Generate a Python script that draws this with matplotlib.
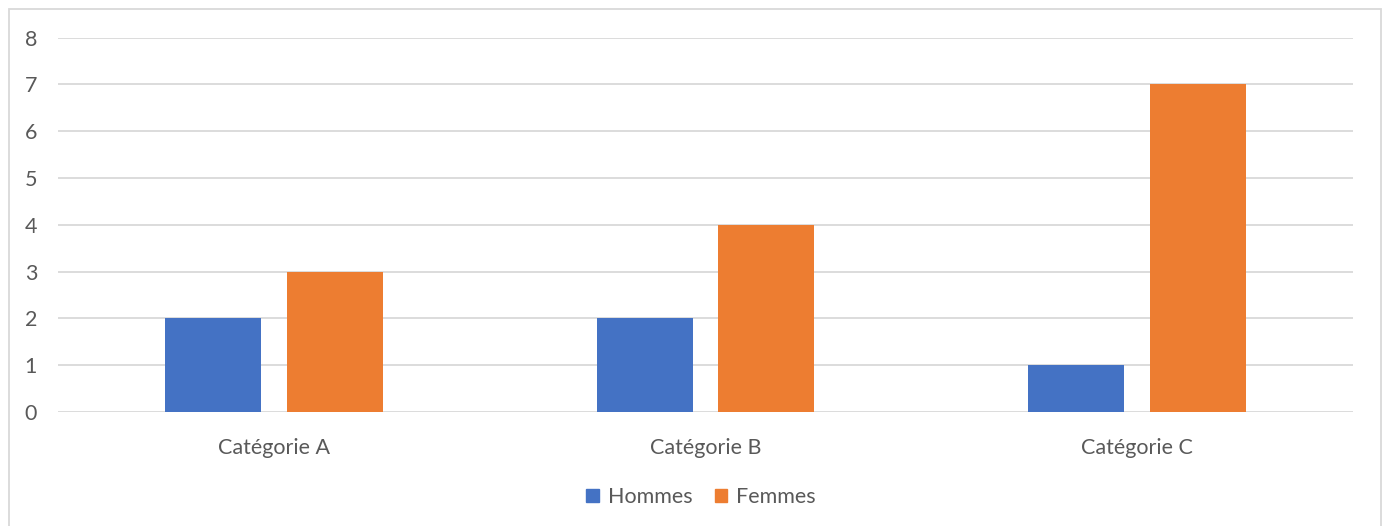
import matplotlib
matplotlib.use("Agg")
import matplotlib.pyplot as plt
from matplotlib.patches import Rectangle, Patch
import numpy as np

categories = ["Catégorie A", "Catégorie B", "Catégorie C"]
hommes = [2, 2, 1]
femmes = [3, 4, 7]
series_names = ["Hommes", "Femmes"]
yticks = [0, 1, 2, 3, 4, 5, 6, 7, 8]

plt.rcParams['font.family'] = ['Lato', 'DejaVu Sans']
text_color = "#595959"
blue = "#4472C4"
orange = "#ED7D31"

W, H = 1387, 526
fig = plt.figure(figsize=(W/100, H/100), dpi=100)
ax = fig.add_axes([58/W, 1-412/H, (1353-58)/W, (412-37.5)/H])

x = np.arange(len(categories))
bw = 0.222
off = 0.141
ax.bar(x - off, hommes, bw, color=blue, zorder=3, label=series_names[0])
ax.bar(x + off, femmes, bw, color=orange, zorder=3, label=series_names[1])

ax.set_xlim(-0.5, 2.5)
ax.set_ylim(0, 8)
ax.set_yticks(yticks)
ax.set_xticks(x)
ax.set_xticklabels(categories)
ax.grid(axis='y', color="#D9D9D9", linewidth=1.3, zorder=0)
for s in ax.spines.values():
    s.set_visible(False)
ax.tick_params(axis='both', length=0, colors=text_color, labelsize=15.5)
ax.tick_params(axis='x', pad=19)
ax.tick_params(axis='y', pad=24)
for lbl in ax.get_yticklabels():
    lbl.set_horizontalalignment('left')

handles = [Patch(color=blue), Patch(color=orange)]
fig.legend(handles, series_names, loc='center', bbox_to_anchor=(701/W, 1-497/H),
           ncol=2, frameon=False, fontsize=15.5, labelcolor=text_color,
           handlelength=0.58, handleheight=0.58, handletextpad=0.4, columnspacing=1.05)

fig.patches.append(Rectangle((8.5/W, -0.01), (1381-8.5)/W, 1-9/H + 0.01,
                             transform=fig.transFigure, fill=False,
                             edgecolor="#D9D9D9", linewidth=1.3))

fig.savefig("out.png", dpi=100)
